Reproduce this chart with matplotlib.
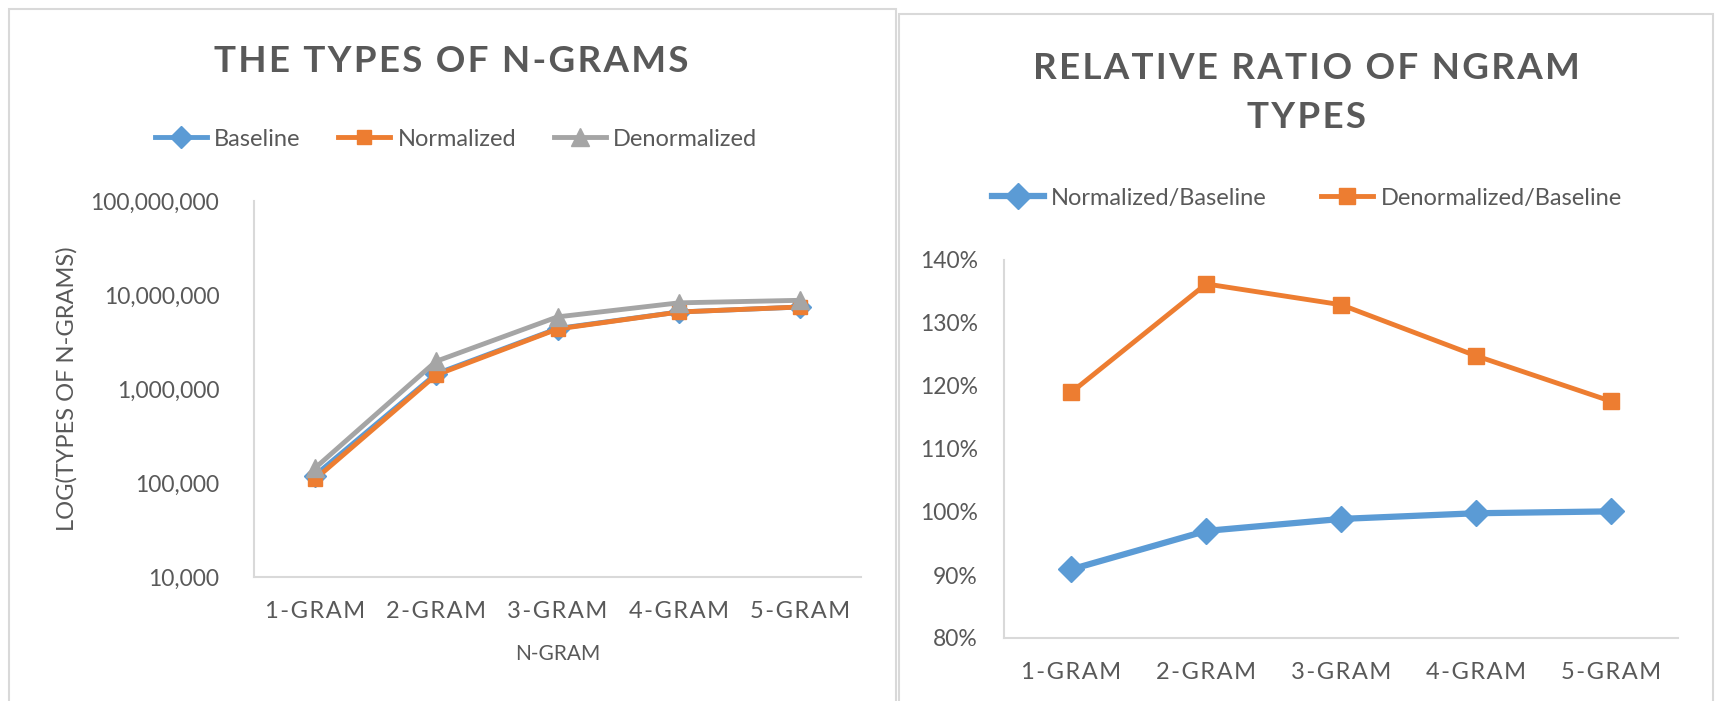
import matplotlib
matplotlib.use("Agg")
import matplotlib.pyplot as plt
from matplotlib.patches import Rectangle
from matplotlib.ticker import FixedLocator, FuncFormatter, PercentFormatter

plt.rcParams['font.family'] = ['Lato', 'DejaVu Sans']

# n-gram type counts
categories = ['1-GRAM', '2-GRAM', '3-GRAM', '4-GRAM', '5-GRAM']
baseline = [120000, 1450000, 4400000, 6600000, 7450000]
normalized = [109000, 1410000, 4350000, 6590000, 7460000]
denormalized = [143000, 1970000, 5850000, 8250000, 8780000]

# ratios against the baseline
ratio_normalized = [0.909, 0.970, 0.989, 0.998, 1.001]
ratio_denormalized = [1.190, 1.362, 1.329, 1.248, 1.176]

BLUE = '#5B9BD5'
ORANGE = '#ED7D31'
GRAY = '#A5A5A5'
TEXT = '#595959'
AXIS = '#D9D9D9'

W, H = 1717, 701
fig = plt.figure(figsize=(W / 100, H / 100), dpi=100)


def spaced(s):
    # loose letter spacing, like the office chart style
    return '\u200a'.join(s)


def px_axes(x0, y0, x1, y1):
    return fig.add_axes([x0 / W, 1 - y1 / H, (x1 - x0) / W, (y1 - y0) / H])


def style(ax):
    for s in ['top', 'right']:
        ax.spines[s].set_visible(False)
    for s in ['left', 'bottom']:
        ax.spines[s].set_color(AXIS)
        ax.spines[s].set_linewidth(1.5)
    ax.tick_params(length=0, colors=TEXT)
    ax.tick_params(axis='x', pad=17, labelsize=17)
    ax.tick_params(axis='y', labelsize=16.5)
    ax.set_xticks(range(len(categories)))
    ax.set_xticklabels([spaced(c) for c in categories])
    ax.set_xlim(-0.5, 4.5)


def legend(ax, cx, cy, ncol, colspace):
    ax.legend(loc='center', bbox_to_anchor=(cx / W, 1 - cy / H),
              bbox_transform=fig.transFigure, ncol=ncol, frameon=False,
              fontsize=17, labelcolor=TEXT, handlelength=2.2,
              handletextpad=0.3, columnspacing=colspace, numpoints=1)


# chart frames
fig.patches.append(Rectangle((9 / W, -0.05), 887 / W, 1 - 9 / H + 0.05,
                             transform=fig.transFigure, fill=False,
                             edgecolor=AXIS, lw=1.5))
fig.patches.append(Rectangle((899 / W, -0.05), 814 / W, 1 - 14 / H + 0.05,
                             transform=fig.transFigure, fill=False,
                             edgecolor=AXIS, lw=1.5))

# left chart: log counts
ax1 = px_axes(254, 201, 861, 577)
x = range(len(categories))
ax1.plot(x, baseline, color=BLUE, lw=3.5, marker='D', ms=11, label='Baseline')
ax1.plot(x, normalized, color=ORANGE, lw=3.5, marker='s', ms=10.5, label='Normalized')
ax1.plot(x, denormalized, color=GRAY, lw=3.5, marker='^', ms=13, label='Denormalized')
ax1.set_yscale('log')
ax1.set_ylim(1e4, 1e8)
ax1.yaxis.set_major_locator(FixedLocator([1e4, 1e5, 1e6, 1e7, 1e8]))
ax1.yaxis.set_minor_locator(FixedLocator([]))
ax1.yaxis.set_major_formatter(FuncFormatter(lambda v, p: f'{int(round(v)):,}'))
style(ax1)
ax1.tick_params(axis='y', pad=25)

fig.text(451 / W, 1 - 61 / H, spaced('THE TYPES OF N-GRAMS'), ha='center',
         va='center', fontsize=26.5, fontweight='bold', color=TEXT)
fig.text(558 / W, 1 - 654 / H, 'N-GRAM', ha='center', va='center',
         fontsize=15, color=TEXT)
fig.text(67 / W, 1 - 389 / H, 'LOG(TYPES OF N-GRAMS)', ha='center',
         va='center', rotation=90, fontsize=17, color=TEXT)
legend(ax1, 456, 139, 3, 1.6)

# right chart: ratios
ax2 = px_axes(1004, 260, 1678, 638)
ax2.plot(x, ratio_normalized, color=BLUE, lw=4.5, marker='D', ms=13,
         label='Normalized/Baseline')
ax2.plot(x, ratio_denormalized, color=ORANGE, lw=3.5, marker='s', ms=11.5,
         label='Denormalized/Baseline')
ax2.set_ylim(0.8, 1.4)
ax2.set_yticks([0.8, 0.9, 1.0, 1.1, 1.2, 1.3, 1.4])
ax2.yaxis.set_major_formatter(PercentFormatter(xmax=1, decimals=0))
style(ax2)
ax2.tick_params(axis='y', pad=19)

fig.text(1306 / W, 1 - 93 / H,
         spaced('RELATIVE RATIO OF NGRAM') + '\n' + spaced('TYPES'),
         ha='center', va='center', fontsize=26.5, fontweight='bold', color=TEXT,
         linespacing=1.62)
legend(ax2, 1307, 198, 2, 2.3)

fig.savefig('out.png', dpi=100)
